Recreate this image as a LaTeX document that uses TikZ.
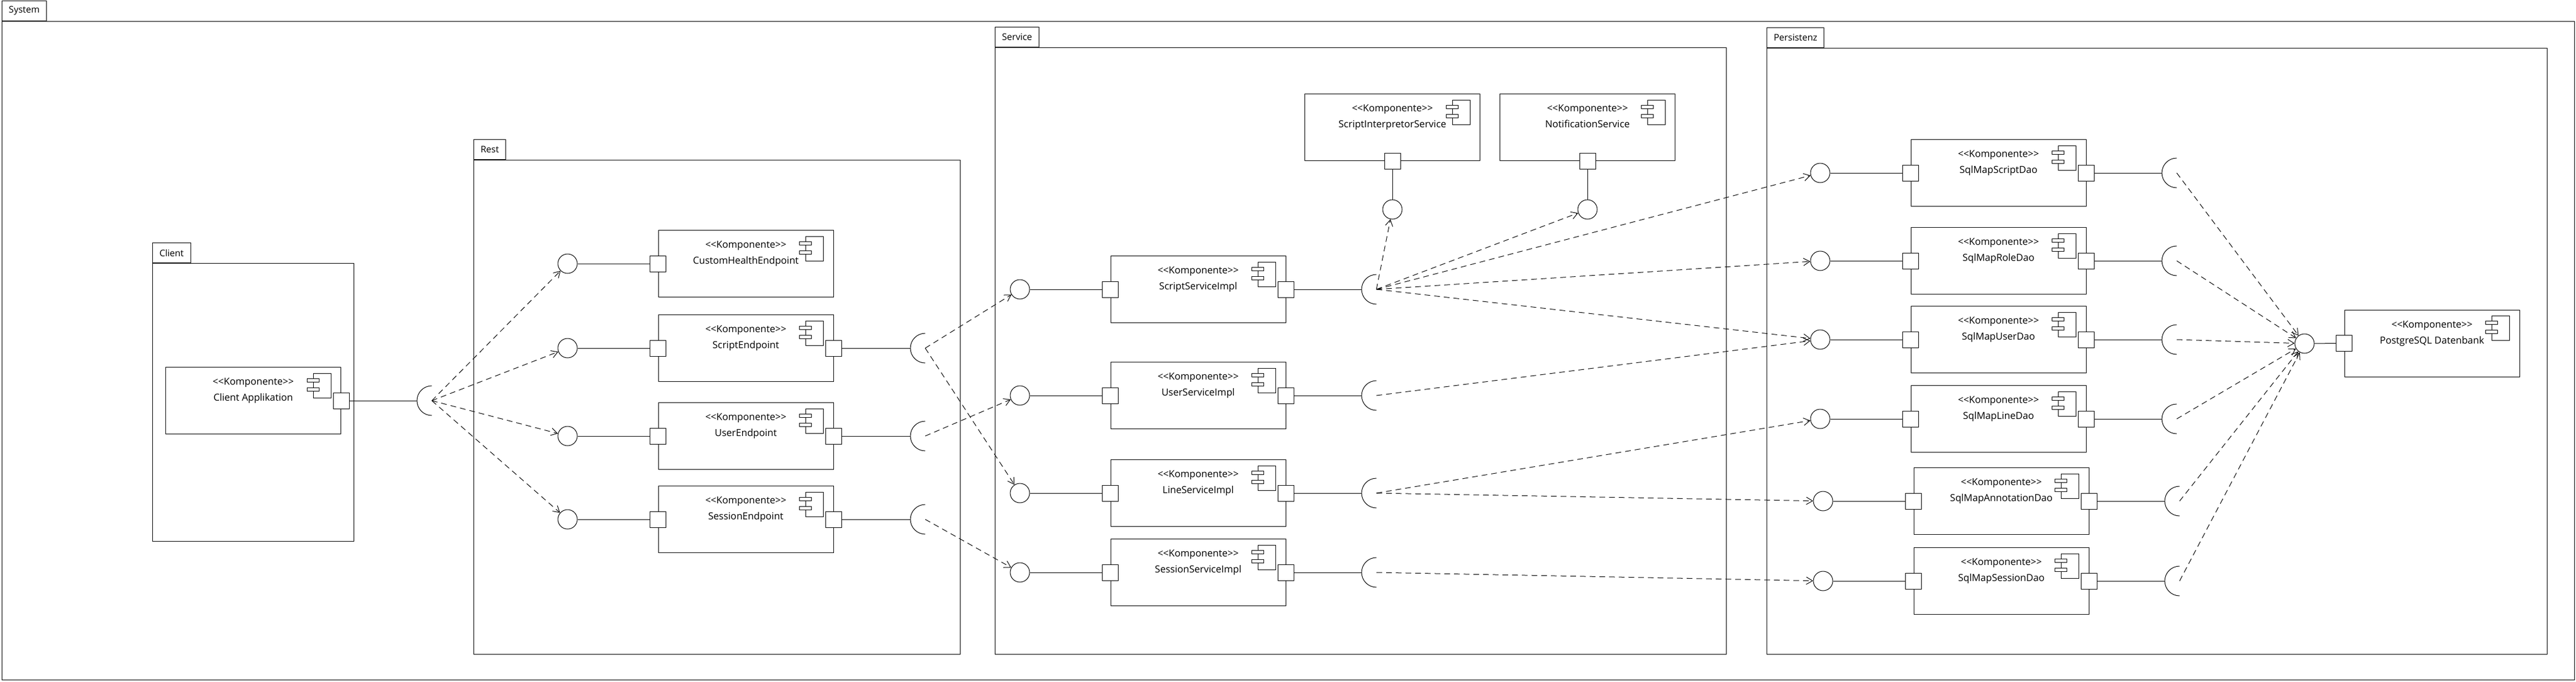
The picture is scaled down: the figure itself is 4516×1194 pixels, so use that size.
\documentclass[tikz,border=0pt]{standalone}
\usepackage{fontspec}
\setmainfont{Open Sans}
\usetikzlibrary{arrows.meta}
\newcommand{\komp}{<\kern0pt<Komponente>\kern0pt>}
\newcommand{\kicon}[1]{%
\draw ([shift={(-49,11)}]#1.north east) rectangle ([shift={(-18,54)}]#1.north east);
\draw[fill=white] ([shift={(-60,20)}]#1.north east) rectangle ([shift={(-39,26)}]#1.north east);
\draw[fill=white] ([shift={(-60,36)}]#1.north east) rectangle ([shift={(-39,42)}]#1.north east);
}
\newcommand{\sockt}[1]{%
\draw ([yshift=26pt]#1) arc[start angle=90,end angle=270,radius=26pt];
}
\begin{document}
\begin{tikzpicture}[x=1pt,y=-1pt,line width=1pt,
	>={Straight Barb[length=11pt,width=13pt]},
	comp/.style={draw,minimum width=307pt,minimum height=117pt,inner sep=0pt},
	ctext/.style={anchor=north,align=center,inner sep=0pt,font=\fontsize{17}{28}\selectfont},
	port/.style={draw,fill=white,minimum size=28pt,inner sep=0pt},
	ball/.style={draw,circle,minimum size=34pt,inner sep=0pt},
	tab/.style={draw,anchor=south west,minimum height=35pt,inner xsep=12pt,font=\fontsize{16}{19}\selectfont},
	dep/.style={->,dash pattern=on 10pt off 7pt}]
\useasboundingbox (0,0) rectangle (4516,1194);
% packages
\draw (3,37) rectangle (4513,1191);
\node[tab] (system) at (3,37) {System};
\draw (267,461) rectangle (620,948);
\node[tab] (client) at (267,461) {Client};
\draw (830,280) rectangle (1683,1146);
\node[tab] (rest) at (830,280) {Rest};
\draw (1744,83) rectangle (3026,1146);
\node[tab] (service) at (1744,83) {Service};
\draw (3097,84) rectangle (4465,1146);
\node[tab] (persistenz) at (3097,84) {Persistenz};
% client
\node[comp] (ca) at (444,702) {};
\node[ctext] (ca-t) at ([yshift=-19pt]ca.north) {\komp\\Client Applikation};
\kicon{ca}
\node[port] (ca-r) at (ca.east) {};
\coordinate (ca-s) at (757,702);
\sockt{ca-s}
\draw (ca-r)--([xshift=-26pt]ca-s);
% rest
\foreach \n/\y/\nm in {rh/462/CustomHealthEndpoint,rs/610/ScriptEndpoint,
	ru/764/UserEndpoint,rx/910/SessionEndpoint}{
\node[comp] (\n) at (1307.5,\y) {};
\node[ctext] (\n-t) at ([yshift=-19pt]\n.north) {\komp\\\nm};
\kicon{\n}
\node[port] (\n-l) at (\n.west) {};
\node[ball] (\n-b) at (995,\y) {};
\draw (\n-b)--(\n-l);
};
\foreach \n/\y in {rs/610,ru/764,rx/910}{
\node[port] (\n-r) at (\n.east) {};
\coordinate (\n-s) at (1622,\y);
\sockt{\n-s}
\draw (\n-r)--([xshift=-26pt]\n-s);
};
\foreach \b in {rh,rs,ru,rx}
	\draw[dep] (ca-s)--(\b-b);
% service
\foreach \n/\y/\nm in {ss/507/ScriptServiceImpl,su/693/UserServiceImpl,
	sl/864/LineServiceImpl,sx/1003/SessionServiceImpl}{
\node[comp] (\n) at (2100.5,\y) {};
\node[ctext] (\n-t) at ([yshift=-19pt]\n.north) {\komp\\\nm};
\kicon{\n}
\node[port] (\n-l) at (\n.west) {};
\node[port] (\n-r) at (\n.east) {};
\node[ball] (\n-b) at (1788,\y) {};
\coordinate (\n-s) at (2413,\y);
\sockt{\n-s}
\draw (\n-b)--(\n-l);
\draw (\n-r)--([xshift=-26pt]\n-s);
};
\foreach \n/\x/\nm in {si/2441/ScriptInterpretorService,sn/2783/NotificationService}{
\node[comp] (\n) at (\x,223) {};
\node[ctext] (\n-t) at ([yshift=-19pt]\n.north) {\komp\\\nm};
\kicon{\n}
\node[port] (\n-d) at (\n.south) {};
\node[ball] (\n-b) at (\x,367) {};
\draw (\n-d)--(\n-b);
};
\draw[dep] (rs-s)--(ss-b);
\draw[dep] (rs-s)--(sl-b);
\draw[dep] (ru-s)--(su-b);
\draw[dep] (rx-s)--(sx-b);
% persistenz
\foreach \n/\y/\nm/\d in {ps/303/SqlMapScriptDao/0,pr/457/SqlMapRoleDao/0,
	pu/595/SqlMapUserDao/0,pl/734/SqlMapLineDao/0,
	pa/878/SqlMapAnnotationDao/5,px/1018/SqlMapSessionDao/5}{
\node[comp] (\n) at (3503.5+\d,\y) {};
\node[ctext] (\n-t) at ([yshift=-19pt]\n.north) {\komp\\\nm};
\kicon{\n}
\node[port] (\n-l) at (\n.west) {};
\node[port] (\n-r) at (\n.east) {};
\node[ball] (\n-b) at (3191+\d,\y) {};
\coordinate (\n-s) at (3816+\d,\y);
\sockt{\n-s}
\draw (\n-b)--(\n-l);
\draw (\n-r)--([xshift=-26pt]\n-s);
};
\foreach \b in {si,sn,ps,pr,pu}
	\draw[dep] (ss-s)--(\b-b);
\draw[dep] (su-s)--(pu-b);
\foreach \b in {pl,pa}
	\draw[dep] (sl-s)--(\b-b);
\draw[dep] (sx-s)--(px-b);
% datenbank
\node[comp] (db) at (4263.5,601.5) {};
\node[ctext] (db-t) at ([yshift=-19pt]db.north) {\komp\\PostgreSQL Datenbank};
\kicon{db}
\node[port] (db-l) at (db.west) {};
\node[ball] (db-b) at (4040,602) {};
\draw (db-b)--(db-l);
\foreach \b in {ps,pr,pu,pl,pa,px}
	\draw[dep] (\b-s)--(db-b);
\end{tikzpicture}
\end{document}
